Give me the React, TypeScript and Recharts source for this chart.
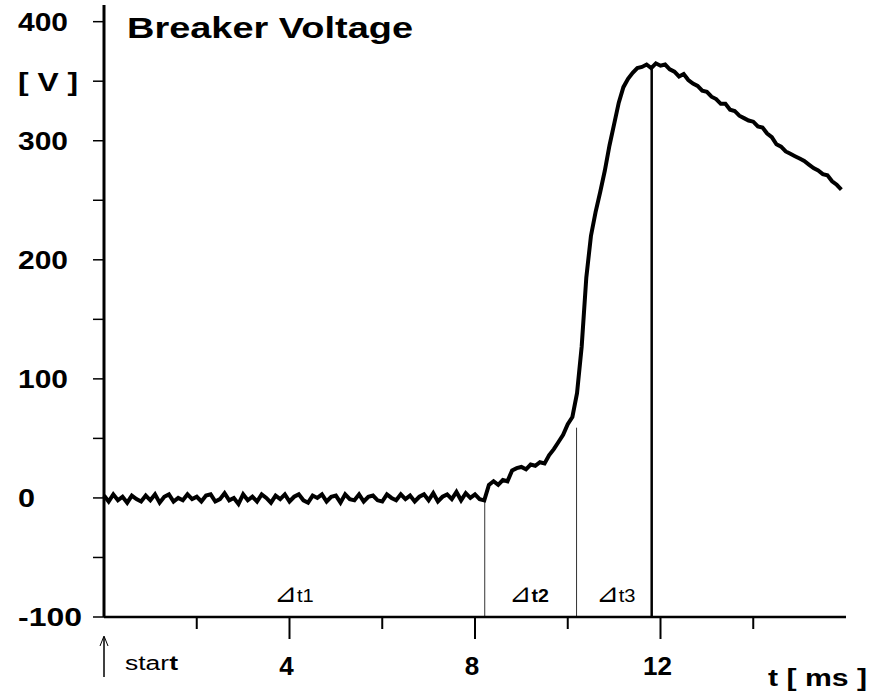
import {
  LineChart,
  Line,
  XAxis,
  YAxis,
  ReferenceLine,
  ReferenceDot,
} from "recharts";

const FONT = '"Liberation Sans", Arial, Helvetica, sans-serif';

// sample times in ms
const time = [
  0, 0.1, 0.2, 0.3, 0.4, 0.5, 0.6, 0.7, 0.8, 0.9,
  1, 1.1, 1.2, 1.3, 1.4, 1.5, 1.6, 1.7, 1.8, 1.9,
  2, 2.1, 2.2, 2.3, 2.4, 2.5, 2.6, 2.7, 2.8, 2.9,
  3, 3.1, 3.2, 3.3, 3.4, 3.5, 3.6, 3.7, 3.8, 3.9,
  4, 4.1, 4.2, 4.3, 4.4, 4.5, 4.6, 4.7, 4.8, 4.9,
  5, 5.1, 5.2, 5.3, 5.4, 5.5, 5.6, 5.7, 5.8, 5.9,
  6, 6.1, 6.2, 6.3, 6.4, 6.5, 6.6, 6.7, 6.8, 6.9,
  7, 7.1, 7.2, 7.3, 7.4, 7.5, 7.6, 7.7, 7.8, 7.9,
  8, 8.1, 8.2, 8.3, 8.4, 8.5, 8.6, 8.7, 8.8, 8.9,
  9, 9.1, 9.2, 9.3, 9.4, 9.5, 9.6, 9.7, 9.8, 9.9,
  10, 10.1, 10.2, 10.3, 10.4, 10.5, 10.6, 10.7, 10.8, 10.9,
  11, 11.1, 11.2, 11.3, 11.4, 11.5, 11.6, 11.7, 11.8, 11.9,
  12, 12.1, 12.2, 12.3, 12.4, 12.5, 12.6, 12.7, 12.8, 12.9,
  13, 13.1, 13.2, 13.3, 13.4, 13.5, 13.6, 13.7, 13.8, 13.9,
  14, 14.1, 14.2, 14.3, 14.4, 14.5, 14.6, 14.7, 14.8, 14.9,
  15, 15.1, 15.2, 15.3, 15.4, 15.5, 15.6, 15.7, 15.8, 15.9,
];

// breaker voltage in V
const voltage = [
  2, -3, 3, -2, 1, -4, 2, -1, -3, 2,
  -2, 3, -4, 1, 3, -3, 0, -2, 3, -1,
  1, -3, 2, 3, -3, -1, 4, -2, 0, -5,
  3, -2, 1, -3, 3, 0, -4, 2, -1, 3,
  -3, 1, 3, -2, -4, 2, 0, 3, -3, 1,
  2, -4, 3, -1, -2, 3, -3, 1, 2, -2,
  -3, 3, 0, -2, 3, -1, 2, -3, 1, 3,
  -2, 4, -3, 1, 3, -1, 5, -2, 4, 0,
  3, -1, -2, 11, 14, 11, 15, 14, 23, 25,
  26, 24, 28, 27, 30, 29, 36, 41, 47, 53,
  62, 68, 88, 127, 185, 220, 240, 257, 275, 296,
  314, 332, 345, 352, 357, 361, 362, 364, 361, 365,
  363, 364, 360, 358, 354, 356, 351, 348, 346, 342,
  341, 337, 335, 331, 331, 326, 325, 321, 319, 317,
  316, 312, 311, 306, 303, 297, 295, 291, 289, 287,
  285, 283, 280, 277, 275, 272, 271, 266, 263, 259,
];

const xTicks = [0, 2, 4, 6, 8, 10, 12, 14, 16];
const xLabelTicks = [4, 8, 12];
const yTicks = [-100, -50, 0, 50, 100, 150, 200, 250, 300, 350, 400];
const yLabelTicks = [-100, 0, 100, 200, 300, 400];

// delta-t marker lines: time and the voltage where each line stops
const markerTimes = [8.21, 10.19, 11.81];
const markerTops = [0, 59, 362];
const deltaNames = ["t1", "t2", "t3"];
const deltaTimes = [4.09, 9.16, 11.03];

const data = time.map((t, i) => ({ t, v: voltage[i] }));

function YTick(props: any) {
  const { x, y, payload } = props;
  const v = payload.value;
  let label: string | null = null;
  if (yLabelTicks.includes(v)) label = String(v);
  if (v === 350) label = "[ V ]";
  const width = label === "0" ? 17 : label === "-100" ? 64 : label === "[ V ]" ? 60 : 50;
  return (
    <g>
      <line x1={x - 11} x2={x} y1={y} y2={y} stroke="#000" strokeWidth={1.5} />
      {label && (
        <text
          x={18}
          y={y}
          dy="0.36em"
          fontFamily={FONT}
          fontWeight="bold"
          fontSize={26}
          fill="#000"
          textLength={width}
          lengthAdjust="spacingAndGlyphs"
        >
          {label}
        </text>
      )}
    </g>
  );
}

function XTick(props: any) {
  const { x, y, payload } = props;
  const v = payload.value;
  if (v === 16) {
    return (
      <text
        x={768}
        y={686}
        fontFamily={FONT}
        fontWeight="bold"
        fontSize={23}
        fill="#000"
        textLength={99}
        lengthAdjust="spacingAndGlyphs"
      >
        t [ ms ]
      </text>
    );
  }
  if (v === 0) {
    return (
      <g>
        <line x1={x} x2={x} y1={y + 20} y2={y + 60} stroke="#000" strokeWidth={1.5} />
        <polyline
          points={`${x - 4},${y + 29} ${x},${y + 19} ${x + 4},${y + 29}`}
          fill="none"
          stroke="#000"
          strokeWidth={1}
        />
        <text
          x={125}
          y={y + 53}
          fontFamily={FONT}
          fontSize={20}
          fill="#000"
          textLength={53}
          lengthAdjust="spacingAndGlyphs"
        >
          star<tspan fontWeight="bold">t</tspan>
        </text>
      </g>
    );
  }
  const major = xLabelTicks.includes(v);
  return (
    <g>
      <line x1={x} x2={x} y1={y} y2={y + (major ? 22 : 12)} stroke="#000" strokeWidth={2} />
      {major && (
        <text
          x={x - 3}
          y={y + 58}
          textAnchor="middle"
          fontFamily={FONT}
          fontWeight="bold"
          fontSize={26}
          fill="#000"
        >
          {v}
        </text>
      )}
    </g>
  );
}

function DeltaLabel(props: any) {
  const { cx, cy, name } = props;
  return (
    <text
      x={cx}
      y={cy}
      textAnchor="middle"
      fontFamily={FONT}
      fontSize={19}
      fill="#000"
      fontWeight={name === "t2" ? "bold" : "normal"}
      textLength={40}
      lengthAdjust="spacingAndGlyphs"
    >
      <tspan fontSize={26} fontWeight="normal">{"\u22BF"}</tspan>
      {name}
    </text>
  );
}

export default function App() {
  return (
    <div style={{ position: "absolute", left: 0, top: 0, width: 882, height: 697, background: "#fff" }}>
      <LineChart
        width={882}
        height={697}
        data={data}
        margin={{ top: 5, right: 36, bottom: 0, left: 0 }}
      >
        <XAxis
          type="number"
          dataKey="t"
          domain={[0, 16]}
          ticks={xTicks}
          interval={0}
          height={80}
          tickSize={0}
          tickMargin={0}
          tickLine={false}
          axisLine={{ stroke: "#000", strokeWidth: 2.5 }}
          tick={<XTick />}
        />
        <YAxis
          type="number"
          domain={[-100, 414]}
          ticks={yTicks}
          interval={0}
          width={104}
          tickSize={0}
          tickMargin={0}
          tickLine={false}
          axisLine={{ stroke: "#000", strokeWidth: 3 }}
          tick={<YTick />}
        />
        {markerTimes.map((t, i) => (
          <ReferenceLine
            key={"m" + i}
            segment={[
              { x: t, y: -100 },
              { x: t, y: markerTops[i] },
            ]}
            stroke={i === 2 ? "#000" : "#333"}
            strokeWidth={i === 2 ? 2.5 : 1}
          />
        ))}
        {deltaTimes.map((t, i) => (
          <ReferenceDot
            key={"d" + i}
            x={t}
            y={-87}
            r={0}
            shape={(p: any) => <DeltaLabel {...p} name={deltaNames[i]} />}
          />
        ))}
        <Line
          type="linear"
          dataKey="v"
          stroke="#000"
          strokeWidth={4}
          strokeLinejoin="miter"
          dot={false}
          isAnimationActive={false}
        />
      </LineChart>
      <svg
        width={882}
        height={697}
        style={{ position: "absolute", left: 0, top: 0, pointerEvents: "none" }}
      >
        <text
          x={127}
          y={38}
          fontFamily={FONT}
          fontWeight="bold"
          fontSize={29}
          fill="#000"
          textLength={286}
          lengthAdjust="spacingAndGlyphs"
        >
          Breaker Voltage
        </text>
      </svg>
    </div>
  );
}
